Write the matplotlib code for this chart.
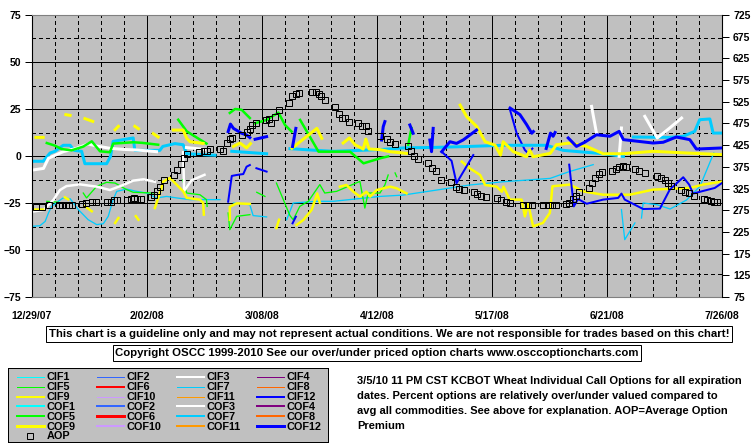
import numpy as np
import matplotlib
matplotlib.use("Agg")
import matplotlib.pyplot as plt
from matplotlib.lines import Line2D

plt.rcParams['font.family'] = ['Liberation Sans', 'DejaVu Sans']
plt.rcParams['font.weight'] = 'bold'

# x = days after 12/29/07, y = percent over/under valued (left axis)
DATE_LABELS = ["12/29/07", "2/02/08", "3/08/08", "4/12/08", "5/17/08", "6/21/08", "7/26/08"]
N = None

cof7_x = [0, 3.4, 5.5, 7.0, 9.5, 11.6, 12.8, 15.1, 16.1, 22.7, 23.9, 24.7, 30.8, 31.3, 38.9, 39.8, 43.5, 46.0, 47.1, 55.7, N,
          60.8, 71.4, N, 78.5, 86.6, 91.7, 105.9, 113, 123.1, 133.3, 143.4, 156.6, 161.7, 173.8, 180.0, N,
          183.0, 194.1, 198.2, 201.7, 203.2, 206.3, 207.3, 210.3]
cof7_y = [-2.8, -2.8, 1.6, 2.5, 5.7, 5.7, 3.0, 2.5, -4.1, -4.1, -0.2, 7.8, 9.6, 3.0, 3.0, 5.1, 6.6, 6.0, 1.2, 0.4, N,
          2.5, 1.2, N, 3.9, 3.0, 2.5, 3.4, 4.3, 4.6, 5.1, 5.7, 5.7, 3.0, 1.2, -0.2, N,
          10.1, 9.9, 10.5, 13.1, 19.3, 19.7, 12.2, 12.2]

cif7_x = [0, 2.4, 4.0, 5.0, 6.0, 8.0, 9.5, 11.6, 12.6, 14.1, 15.6, 17.1, 19.7, 21.7, 23.2, 24.7, 25.8, 28.8, 31.8, 34.9,
          37.9, 41.0, 44.0, 48.1, 57.2, N, 61.3, 66.3, 67.3, 71.4, N, 77.5, 79.5, 86.6, 91.7, 105.9, 112.9, 123.2,
          133.3, 143.5, 157.7, 163.7, 170.8, N, 179.4, 180.4, 183.5, N, 185.5, 186.0, 190.2, 194.2, 199.2, 203.3, 207.5]
cif7_y = [-37.4, -37.1, -34.8, -30.3, -26.8, -24.1, -22.3, -22.7, -25, -28.5, -31.2, -33.9, -36.5, -36.0, -32.1, -23.2,
          -18.8, -17.6, -18.8, -19.7, -22.3, -21.5, -22.3, -23.2, -23.2, N, -25.0, -25.9, -31.7, -32.4, N, -33.9, -25.0,
          -24.1, -24.1, -21.5, -20.8, -18.1, -15.4, -13.7, -11.9, -8.2, -4.6, N, -28.5, -44.5, -35.6, N,
          -33.0, -25, -25.9, -28.2, -23.4, -16.1, 1.6]

cof3_x = [0, 3.5, 5.0, 9.5, 13.6, 17.1, 19.7, 23.7, 27.8, 31.9, 37.9, N, 47, 52.5, N, 170.3, 171.8, N,
          179.4, 178.7, N, 186.5, 190.3, 194.1, 197.7]
cof3_y = [-7.5, -6.6, -1.2, 2.3, 4.1, 6.4, 5.3, 4.1, 3.5, 3.2, 2.3, N, 4.5, 3.5, N, 26.4, 12.2, N,
          14.9, -0.2, N, 21.1, 9.6, 14.9, 20.2]

cif3_x = [0, 3.5, 6.5, 8.5, 10.5, 14.6, 19.7, 23.7, 27.8, 30.8, 33.9, 37.4, N, 46.0, 46.3, 48.5, 52.5]
cif3_y = [-29.6, -28.7, -23.4, -18.1, -16.0, -15.1, -16.3, -18.1, -15.4, -13.1, -12.4, -13.7, N, 2.0, -18.5, -13.0, -10.0]

cof5_x = [4.5, 7.0, 9.0, 12.0, 15.6, 18.2, 20.7, 23.7, 24.7, 30.8, 33.5, 38.4, N, 44.5, 47.1, 53.1, N,
          60.2, 61.8, 63.8, 66.3, N, 67.9, 71.4, 75.0, 77.0, 79.0, N, 81.6, 84, 87.2, 92, 96.8, 100.9, 106.0, 108.4, N,
          114.5, 115.5]
cof5_y = [6.9, 5.5, 3.7, 3.0, 5.0, 7.8, 2.5, 2.0, 6.6, 7.3, 7.0, 6.0, N, 19.3, 13.1, 6.6, N,
          22.9, 25.0, 24.6, 20.2, N, 17.4, 19.2, 23.1, 16.5, 13.0, N, 19.2, 12, 2.3, 2.3, 2.3, -3.9, -1.2, -0.2, N,
          6, 14.9]

cif5_x = [4.5, 8.0, N, 15.6, 16.6, 19.7, 22.7, 25.3, 28.8, 30.8, 36.9, N, 45.8, 47.1, 51.1, 53.1, 53.3, N,
          59.7, 60.2, 62.3, 66.3, N, 68.4, 70.9, N, 74.4, 78.5, 79.5, 81.5, 84.1, 87.6, 89.1, 92.7, 99.8, 101.3,
          102.3, 105.9, 107.4, 108.4, N, 110.5, 111]
cif5_y = [-24.1, -24.6, N, -19.7, -22.3, -16.1, -14.0, -14.4, -17.9, -19.3, -19.7, N, -12.6, -19.7, -20.6, -23.2, -26.8, N,
          -30.3, -39.2, -32.1, -31.2, N, -19.3, -21.5, N, -14.4, -31.7, -33.9, -26.8, -24.1, -15.2, -19.7, -18.8, -13.5,
          -27.7, -19.7, -19.7, -15.4, -10.1, N, -9, -11]

cof9_x = [1.2, 3.4, N, 10.3, 11.6, N, 16.1, 18.5, N, 25.3, 26.3, N, 31.3, 32.4, N, 36.9, 38.4, N,
          43.0, 46.0, 47.1, 48.1, 52.1, N, 61.3, 63.3, 65.3, 66.5, N, 79.1, 81.6, 84.2, 86.7, 88.2, N,
          94.7, 96.6, 98.3, 100.8, 101.6, 102.6, 105.9, 108.9, 114.0, N, 130.3, 132.3, 135.4, 137.9, 140.9, 142.6,
          143.4, 146.5, 150.5, 151.5, 152.5, 157.7, 159.6, 163.7, 168.8, 173.8, 180.0, 189.0, 199.2, 210.3]
cof9_y = [9.9, 9.9, N, 22.0, 21.6, N, 19.9, 18.4, N, 14.0, 15.8, N, 15.8, 14.5, N, 11.9, 10.1, N,
          13.8, 13.8, 9.4, 7.6, 6.7, N, 5.1, 6.9, 4.3, 6.6, N, 4.1, 7.6, 11.2, 14.7, 9.4, N,
          6.9, 9.6, 6.0, 3.7, 9.0, 3.7, 3.4, 2.3, 1.4, N, 27.1, 20.9, 15.6, 7.6, 5.8, 0.5,
          7.6, 2.3, -0.4, 3.2, -0.4, 1.4, 6.0, 6.9, 5.1, 1.2, 1.2, 2.5, 1.6, 0.7]

cif9_x = [0.4, 3.4, N, 10.0, 11.0, N, 16.1, 18.2, N, 25.3, 26.3, N, 31.6, 32.4, N, 37.4, 38.9, 40.0, 42.0, 44.0,
          46.0, 47.1, 51.1, 52.1, 52.3, N, 60.2, 60.2, 62.3, 66.3, N, 74.4, 75.2, N, 80.5, 82.6, 85.1, 86.8, 87.6, N,
          93.7, 95.7, 97.8, 99.8, 101.8, 102.9, 104.9, 109.0, 111.0, 114.0, N, 130.8, 133.3, 136.4, 137.9, 141.4,
          143.0, 143.5, 145.4, 149.0, 150.0, 151.0, 152.5, 155.5, 157.6, 158.4, 163.7, 167.7, 173.8, 181.9, 189.0,
          200.2, 204.3, 210.3]
cif9_y = [-28.5, -28.5, N, -22.0, -23.0, N, -26.8, -29.4, N, -35.6, -33.0, N, -32.0, -33.9, N, -27.7, -19.7, -13.5,
          -11.7, -15.2, -18.8, -22.3, -23.2, -25.0, -31.2, N, -33.9, -27.0, -25.2, -25.5, N, -38.3, -33.9, N,
          -36.7, -34.0, -28.7, -19.9, -24.8, N, -16.3, -15.4, -19.0, -21.6, -19.0, -21.6, -18.1, -16.3, -17.2, -19.9, N,
          -3.0, -6.6, -10.1, -15.4, -16.3, -19.0, -16.3, -23.2, -23.2, -32.1, -25.4, -37.4, -35.6, -30.3, -16.1,
          -15.2, -18.8, -20.6, -20.6, -17.9, -17.0, -15.2, -13.5]

cof12_x = [59.7, 60.4, 61.3, 63.8, 65.3, 66.3, N, 67.9, 71.4, N, 79.3, 80.3, N, 106.4, 106.9, 107.4, N,
           115.0, 116.0, N, 121.1, 121.6, 122.1, N, 124.7, 127.2, 129.2, 131.2, 135.3, N,
           145.5, 148.5, 150.5, 152.1, 152.6, N, 156.5, 157.8, 158.6, 159.2, N,
           163.2, 165.7, 168.2, 171.8, 175.9, 178.7, 180.0, 189.0, 192.1, 196.1, 200.2, 202.2, 210.3]
cof12_y = [13.0, 17.0, 14.7, 12.1, 11.2, 9.8, N, 8.9, 10.3, N, 5.0, 14.7, N, 8.5, 15.6, 18.3, N,
           16.5, 12.1, N, 8.5, 2.3, 14.7, N, 2.3, 7.6, 6.7, 8.5, 13.8, N,
           25.5, 22.0, 16.8, 12.1, 13.0, N, 4, 12.2, 10.5, 12.5, N,
           9.6, 5.1, 7.3, 11.3, 10.5, 13.1, 8.7, 6.9, 7.3, 10.1, 8.7, 3.7, 4.3]

cif12_x = [59.7, 60.8, 62.3, 64.3, 65.3, 66.3, N, 68.3, 71.4, N, 79.3, 80.3, N, 124.7, 127.7, 129.2, 134.3, N,
           145.5, 147.5, 150.0, 151.0, 152.3, N, 163.5, 164.9, 166.2, 168.8, 173.8, 178.4, 179.4, 180.4, 186.0,
           191.1, 194.1, 198.2, 200.0, 201.2, 203.8, 207.8, 210.3]
cif12_y = [-24.3, -10.6, -10.1, -9.6, -5.7, -4.8, N, -6.5, -8.3, N, -35.8, -32.3, N, 2.3, -2.6, -14.5, 0.5, N,
           24.5, 12.1, 3.2, 1.4, 4.0, N, -4.6, -26.8, -22.9, -25.4, -23.2, -22.3, -20.0, -23.2, -28.2,
           -28.0, -17.9, -11.3, -15.2, -20.0, -18.8, -17.0, -14.0]

# average option premium (right axis)
aop_x = [1.1, 3.1, 5.2, 8.2, 9.2, 10.2, 11.3, 12.3, 15.3, 16.3, 18.4, 19.4, 22.9, 23.9, 24.9, 26.0, 29.0, 30.0, 31.0,
         32.0, 33.1, 36.1, 37.1, 38.1, 39.1, 40.2, 43.2, 44.0, 45.2, 46.2, 47.3, 50.8, 52.3, 53.3, 54.2, 57.2, 58.2,
         59.2, 60.2, 61.0, 64.0, 65.5, 66.3, 67.0, 68.1, 71.1, 72.0, 72.6, 74.1, 75.2, 78.2, 79.2, 80.2, 81.2, 85.1,
         86.3, 87.3, 88.1, 89.1, 92.2, 93.4, 94.4, 95.4, 96.5, 99.3, 100.3, 101.5, 102.3, 105.9, 107.9, 109.1, 110.4,
         114.3, 115.2, 116.2, 117.5, 120.6, 121.6, 122.9, 124.4, 127.4, 129.0, 130.0, 131.4, 134.5, 135.5, 136.8,
         138.3, 141.4, 142.6, 144.2, 145.4, 149.5, 151.0, 152.3, 155.6, 157.1, 158.4, 159.4, 162.5, 163.5, 164.5,
         165.5, 166.5, 169.5, 170.3, 171.3, 172.6, 173.5, 176.6, 177.6, 178.7, 179.9, 180.7, 183.5, 184.8, 186.5,
         190.3, 191.4, 192.6, 193.6, 194.6, 197.4, 198.7, 200.0, 201.4, 204.4, 205.4, 206.5, 207.5, 208.5]
aop_y = [283, 283, 287, 286, 286, 287, 287, 287, 290, 292, 293, 293, 295, 295, 298, 299, 299, 301, 303,
         301, 301, 306, 310, 320, 328, 345, 356, 368, 382, 395, 405, 410, 412, 412, 416, 416, 412,
         431, 439, 442, 449, 455, 462, 472, 475, 482, 486, 475, 490, 506, 523, 538, 542, 545, 548,
         548, 543, 538, 528, 514, 497, 488, 488, 479, 475, 470, 468, 458, 445, 439, 433, 428,
         422, 412, 400, 392, 383, 373, 366, 345, 339, 328, 324, 322, 316, 313, 308,
         306, 304, 299, 295, 291, 287, 287, 286, 286, 286, 286, 286, 290, 291, 300,
         308, 316, 326, 337, 349, 358, 362, 366, 370, 374, 376, 374, 370, 366, 360,
         355, 349, 345, 337, 330, 322, 318, 314, 308, 301, 299, 297, 295, 295]

LEGEND_NAMES = ["CIF1", "CIF2", "CIF3", "CIF4", "CIF5", "CIF6", "CIF7", "CIF8", "CIF9", "CIF10", "CIF11", "CIF12",
                "COF1", "COF2", "COF3", "COF4", "COF5", "COF6", "COF7", "COF8", "COF9", "COF10", "COF11", "COF12"]
LEGEND_COLORS = ["#00FFFF", "#3366FF", "#FFFFFF", "#800080", "#00FF00", "#FF0000",
                 "#00CCFF", "#FF6600", "#FFFF00", "#CC99FF", "#FF9900", "#0000FF"] * 2
# pixel widths: every third series drawn heavier, COF heavier than CIF
LEGEND_WIDTHS = [1, 1, 2, 1, 1, 2, 1, 1, 2, 1, 1, 2, 2, 2, 2, 2, 2, 3, 2, 2, 3, 2, 2, 3]

PX = 0.72  # one pixel in points at dpi 100


def arr(v):
    return np.array(v, dtype=float)


fig = plt.figure(figsize=(7.55, 4.46), dpi=100)
W, H = 755.0, 446.0
ax = fig.add_axes([32 / W, 1 - 297 / H, 690 / W, 282 / H])
ax.set_facecolor("#C0C0C0")
ax.set_xlim(0, 210)
ax.set_ylim(-75, 75)

ax.set_xticks(np.arange(0, 211, 35))
ax.set_xticks(np.arange(0, 211, 7), minor=True)
ax.set_xticklabels(DATE_LABELS)
ax.set_yticks(np.arange(-75, 76, 25))
ax.set_yticks(np.arange(-62.5, 63, 25), minor=True)
ax.grid(which="major", color="black", lw=1 * PX, ls="-", antialiased=False)
ax.grid(which="minor", color="black", lw=1 * PX, ls=(0, (3, 3)), antialiased=False)
ax.set_axisbelow(True)
ax.tick_params(axis="x", which="both", length=0, pad=10, labelsize=7.5)
ax.tick_params(axis="y", which="major", length=5, width=1 * PX, pad=3, direction="out", labelsize=7.5)
ax.tick_params(axis="y", which="minor", length=0)
for s in ["top", "bottom"]:
    ax.spines[s].set_color("#808080")
ax.spines["left"].set_color("black")
ax.spines["right"].set_visible(False)

series = [
    (cif7_x, cif7_y, "#00CCFF", 1.3),
    (cif5_x, cif5_y, "#00FF00", 1.3),
    (cif3_x, cif3_y, "#FFFFFF", 2.5),
    (cif9_x, cif9_y, "#FFFF00", 2.5),
    (cif12_x, cif12_y, "#0000FF", 2),
    (cof7_x, cof7_y, "#00CCFF", 3),
    (cof3_x, cof3_y, "#FFFFFF", 3),
    (cof5_x, cof5_y, "#00FF00", 2.5),
    (cof9_x, cof9_y, "#FFFF00", 3),
    (cof12_x, cof12_y, "#0000FF", 3),
]
for xs, ys, c, w in series:
    ax.plot(arr(xs), arr(ys), color=c, lw=w * PX)

ax2 = ax.twinx()
ax2.set_ylim(75, 725)
ax2.set_yticks(np.arange(75, 726, 50))
ax2.tick_params(axis="y", length=5, width=1 * PX, pad=3, labelsize=7.5)
ax2.spines["right"].set_color("black")
for s in ["top", "bottom", "left"]:
    ax2.spines[s].set_visible(False)
ax2.plot(aop_x, aop_y, ls="none", marker="s", ms=5, mfc="none", mec="black", mew=1 * PX)

for lab in ax.get_xticklabels() + ax.get_yticklabels() + ax2.get_yticklabels():
    lab.set_fontweight("bold")

# disclaimer boxes
box = dict(boxstyle="square,pad=0.22", fc="white", ec="black", lw=1 * PX)
fig.text(389 / W, 1 - 334 / H,
         "This chart is a guideline only and may not represent actual conditions. "
         "We are not responsible for trades based on this chart!",
         ha="center", va="center", fontsize=8.2, fontweight="bold", bbox=box)
fig.text(377 / W, 1 - 353 / H,
         "Copyright OSCC 1999-2010 See our over/under priced option charts www.osccoptioncharts.com",
         ha="center", va="center", fontsize=8.2, fontweight="bold", bbox=box)

note = ["3/5/10 11 PM CST KCBOT Wheat Individual Call Options for all expiration",
        "dates. Percent options are relatively over/under valued compared to",
        "avg all commodities. See above for explanation. AOP=Average Option",
        "Premium"]
for i, line in enumerate(note):
    fig.text(357 / W, 1 - (381 + 15 * i) / H, line, ha="left", va="center", fontsize=8.0, fontweight="bold")

# legend panel drawn in pixel units
lg = fig.add_axes([8 / W, 1 - 442 / H, 320 / W, 74 / H])
lg.set_xlim(0, 320)
lg.set_ylim(74, 0)
lg.set_facecolor("#C0C0C0")
lg.set_xticks([])
lg.set_yticks([])
for s in lg.spines.values():
    s.set_color("black")
    s.set_linewidth(1 * PX)
for i, (name, c, w) in enumerate(zip(LEGEND_NAMES, LEGEND_COLORS, LEGEND_WIDTHS)):
    row, col = divmod(i, 4)
    x0 = 8.5 + 80 * col
    y0 = 8.7 + 9.9 * row
    lg.add_line(Line2D([x0, x0 + 27], [y0, y0], color=c, lw=w * PX, antialiased=False))
    lg.text(x0 + 30, y0 + 0.3, name, ha="left", va="center", fontsize=7.8, fontweight="bold")
lg.plot([21.7], [8.7 + 9.9 * 6], ls="none", marker="s", ms=5, mfc="none", mec="black", mew=1 * PX)
lg.text(38.5, 8.7 + 9.9 * 6 + 0.3, "AOP", ha="left", va="center", fontsize=7.8, fontweight="bold")

fig.savefig("out.png", dpi=100)
